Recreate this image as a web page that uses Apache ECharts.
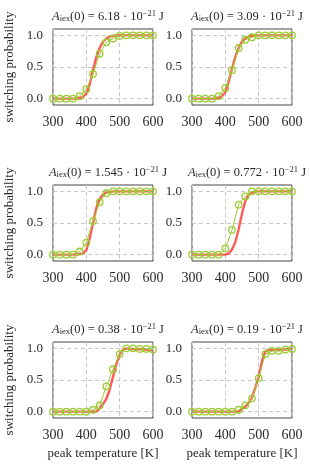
<!DOCTYPE html>
<html><head><meta charset="utf-8">
<script src="https://cdn.jsdelivr.net/npm/echarts@6/dist/echarts.min.js"></script>
<style>html,body{margin:0;padding:0;background:#fff}#c{width:310px;height:464px}</style>
</head><body><div id="c"></div>
<script>
const temps = [300,320,340,360,380,400,420,440,460,480,500,520,540,560,580,600];
const redTemps = [300,310,320,330,340,350,360,370,380,390,400,410,420,430,440,450,460,470,480,490,500,510,520,530,540,550,560,570,580,590,600];
const xTicks = [300,400,500,600];
const yTicks = [0,0.5,1];
const amplitudes = ['6.18','3.09','1.545','0.772','0.38','0.19'];

const green1 = [0,0,0,0,0.04,0.15,0.39,0.71,0.89,0.95,0.99,1,1,1,1,1];
const green2 = [0,0,0,0,0.04,0.17,0.45,0.80,0.93,0.97,1,1,1,1,1,1];
const green3 = [0,0,0,0,0.05,0.19,0.53,0.83,0.97,1,1,1,1,1,1,1];
const green4 = [0,0,0,0,0,0.10,0.39,0.79,0.92,1,1,1,1,1,1,1];
const green5 = [0,0,0,0,0,0,0.03,0.10,0.40,0.67,0.91,1,1,0.99,0.99,0.98];
const green6 = [0,0,0,0,0,0,0,0.03,0.10,0.21,0.53,0.91,0.96,0.96,0.98,0.99];

const red1 = [0,0,0,0,0,0,0,0,0.01,0.03,0.08,0.22,0.45,0.66,0.8,0.9,0.95,0.98,0.99,1,1,1,1,1,1,1,1,1,1,1,1];
const red2 = [0,0,0,0,0,0,0,0,0.01,0.04,0.1,0.27,0.47,0.66,0.8,0.9,0.95,0.98,0.99,1,1,1,1,1,1,1,1,1,1,1,1];
const red3 = [0,0,0,0,0,0,0,0,0.01,0.02,0.07,0.25,0.5,0.74,0.88,0.95,0.98,0.99,1,1,1,1,1,1,1,1,1,1,1,1,1];
const red4 = [0,0,0,0,0,0,0,0,0,0,0,0.02,0.08,0.2,0.4,0.65,0.85,0.94,0.98,1,1,1,1,1,1,1,1,1,1,1,1];
const red5 = [0,0,0,0,0,0,0,0,0,0,0,0,0,0,0.05,0.12,0.2,0.35,0.55,0.75,0.9,0.98,1,0.99,0.99,0.98,0.99,0.98,0.98,0.97,0.97];
const red6 = [0,0,0,0,0,0,0,0,0,0,0,0,0,0,0,0.04,0.08,0.14,0.22,0.38,0.55,0.8,0.95,0.98,0.97,0.98,0.97,0.98,0.98,0.99,0.99];

const greens = [green1,green2,green3,green4,green5,green6];
const reds = [red1,red2,red3,red4,red5,red6];

const FONT = 'Liberation Serif';
const TXT = '#2a2a2a';
const lefts = [53,192];
const tops = [29,185,342];
const W = 100, H = 76;

const grid = [], xAxis = [], yAxis = [], series = [], title = [];
for (let i = 0; i < 6; i++) {
  const col = i % 2, row = Math.floor(i / 2);
  grid.push({left: lefts[col], top: tops[row], width: W, height: H, show: true, borderColor: '#444', borderWidth: 1, backgroundColor: 'transparent'});
  xAxis.push({
    gridIndex: i, type: 'value', min: 300, max: 600, interval: 100,
    axisLine: {show: false}, axisTick: {show: false},
    axisLabel: {fontFamily: FONT, fontSize: 14, color: TXT, margin: 10},
    splitLine: {show: true, lineStyle: {type: [4,3], color: '#c8c8c8', width: 1}},
    name: row === 2 ? 'peak temperature [K]' : '',
    nameLocation: 'middle', nameGap: 29,
    nameTextStyle: {fontFamily: FONT, fontSize: 13, color: TXT}
  });
  yAxis.push({
    gridIndex: i, type: 'value', min: -0.1, max: 1.1,
    axisLine: {show: false},
    axisTick: {show: false, customValues: yTicks},
    axisLabel: {fontFamily: FONT, fontSize: 13, color: TXT, margin: 10, customValues: yTicks, formatter: v => v.toFixed(1)},
    splitLine: {show: true, lineStyle: {type: [4,3], color: '#c8c8c8', width: 1}},
    name: col === 0 ? 'switching probability' : '',
    nameLocation: 'middle', nameGap: 37,
    nameTextStyle: {fontFamily: FONT, fontSize: 13, color: TXT}
  });
  series.push({
    type: 'line', xAxisIndex: i, yAxisIndex: i,
    data: redTemps.map((t, k) => [t, reds[i][k]]),
    showSymbol: false, symbol: 'none',
    lineStyle: {color: 'rgba(255,60,60,0.85)', width: 2.4},
    z: 2, animation: false
  });
  series.push({
    type: 'line', xAxisIndex: i, yAxisIndex: i,
    data: temps.map((t, k) => [t, greens[i][k]]),
    symbol: 'circle', symbolSize: 6.5,
    itemStyle: {color: 'rgba(255,255,255,0)', borderColor: '#9acd32', borderWidth: 1.3},
    lineStyle: {color: '#9acd32', width: 1},
    z: 3, animation: false
  });
  title.push({
    text: '{a|A}{s|iex}{n|(0) = ' + amplitudes[i] + ' · 10}{p|−21}{n| J}',
    left: lefts[col] + W / 2, top: tops[row] - 25, textAlign: 'center',
    textStyle: {
      fontWeight: 'normal',
      rich: {
        a: {fontFamily: FONT, fontStyle: 'italic', fontWeight: 'normal', fontSize: 12.5, color: TXT},
        s: {fontFamily: FONT, fontWeight: 'normal', fontSize: 8.5, color: TXT, padding: [5,0,0,0]},
        n: {fontFamily: FONT, fontWeight: 'normal', fontSize: 12.5, color: TXT},
        p: {fontFamily: FONT, fontWeight: 'normal', fontSize: 8.5, color: TXT, padding: [0,0,6,0]}
      }
    }
  });
}

const chart = echarts.init(document.getElementById('c'), null, {renderer: 'canvas'});
chart.setOption({animation: false, title, grid, xAxis, yAxis, series});
</script></body></html>
